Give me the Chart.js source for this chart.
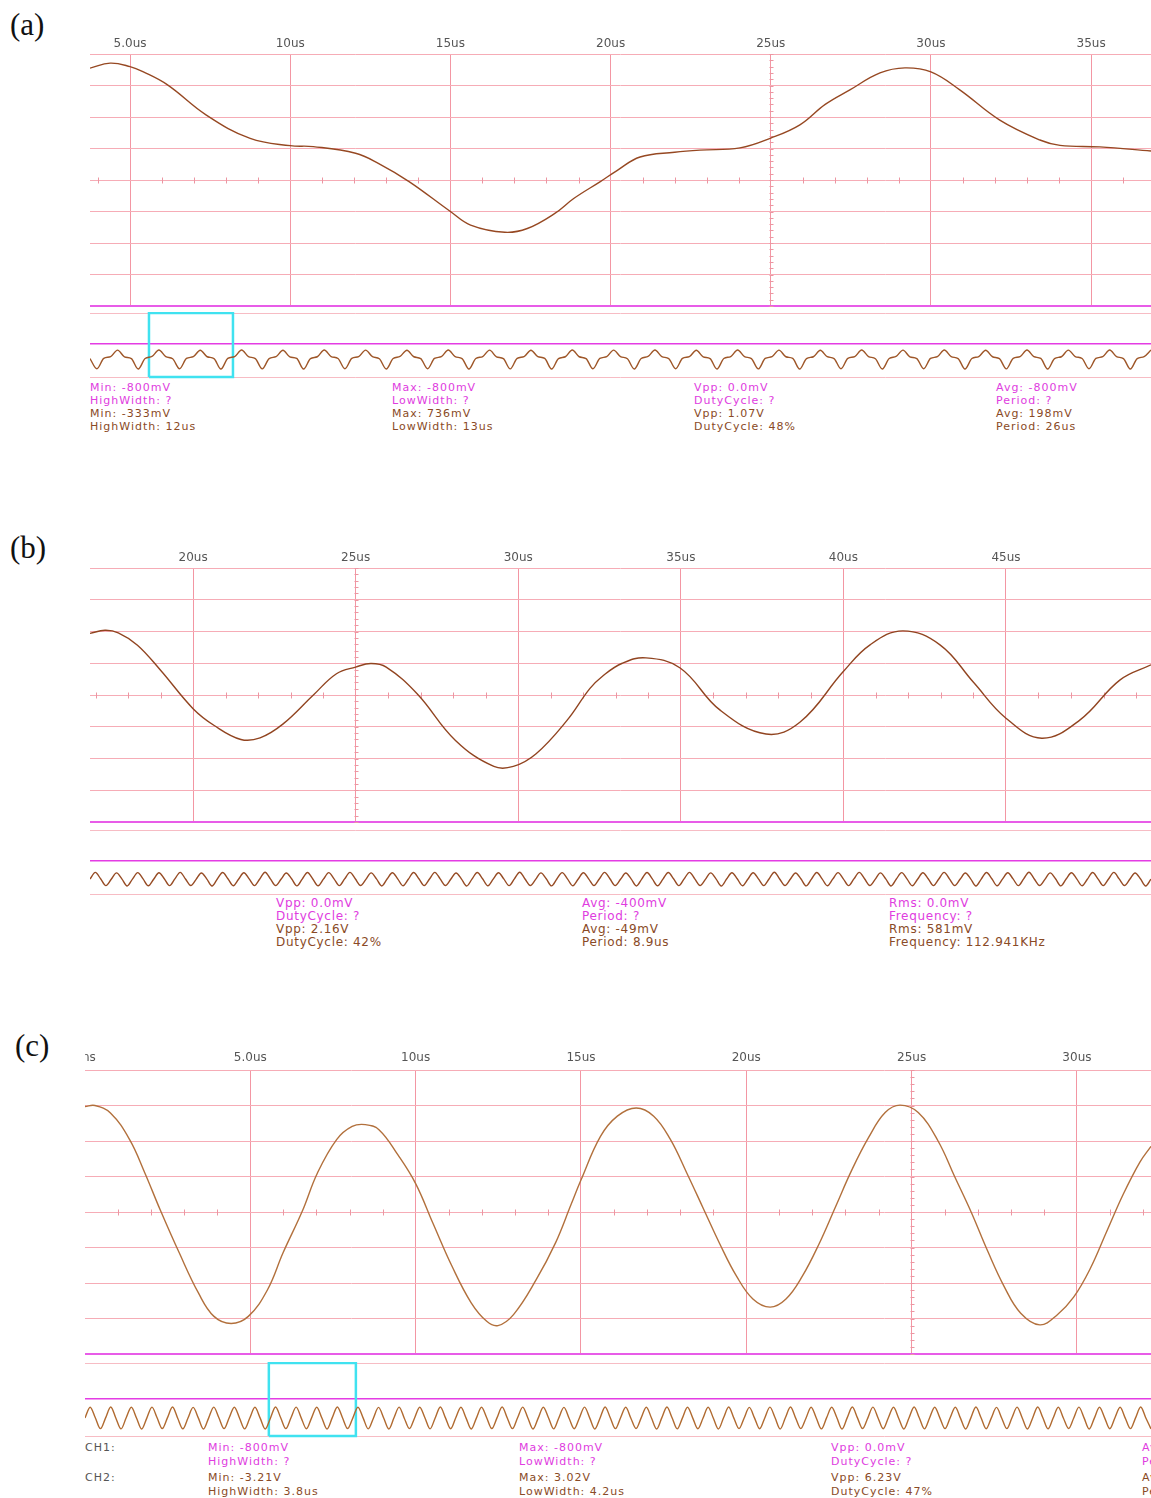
<!DOCTYPE html>
<html>
<head>
<meta charset="utf-8">
<script src="https://cdn.jsdelivr.net/npm/chart.js@4.4.1/dist/chart.umd.min.js"></script>
<style>
  html, body { margin: 0; padding: 0; background: #fff; overflow: hidden; }
  #page { position: relative; width: 1151px; height: 1498px; overflow: hidden; background: #fff; }
  canvas { position: absolute; }
  .lbl { position: absolute; font-family: "Liberation Serif", serif; font-size: 31px; line-height: 34px; color: #111; }
  .txt { position: absolute; font-family: "DejaVu Sans", sans-serif; font-size: 11px; line-height: 13px; letter-spacing: 1px; white-space: nowrap; }
  .txt.wide { font-size: 12px; letter-spacing: 0.7px; }
  .m { color: #e03ce0; }
  .b { color: #8a4a26; }
  .g { color: #555; }
</style>
</head>
<body>
<div id="page">
  <div class="lbl" style="left:10px;top:8px">(a)</div>
  <div class="lbl" style="left:10px;top:531px">(b)</div>
  <div class="lbl" style="left:15px;top:1029px">(c)</div>
  <canvas id="mainA"></canvas>
  <canvas id="stripA"></canvas>
  <canvas id="mainB"></canvas>
  <canvas id="stripB"></canvas>
  <canvas id="mainC"></canvas>
  <canvas id="stripC"></canvas>
</div>
<script>
// ---------- panel (a) ----------
const tA = [3.75, 4.38, 5.0, 5.4, 6.17, 7.37, 8.75, 10.0, 10.72, 12.04, 12.75, 13.71, 15.0, 15.63, 16.7, 17.4, 18.26, 18.86, 19.68, 20.2,
            20.92, 22.0, 22.79, 24.04, 25.0, 25.91, 26.7, 27.47, 28.41, 29.19, 30.0, 30.9, 32.15, 33.4, 34.03, 35.27, 36.87];
const vA = [3.55, 3.71, 3.6, 3.44, 3.02, 2.07, 1.32, 1.09, 1.06, 0.85, 0.53, -0.05, -1.0, -1.43, -1.66, -1.54, -1.06, -0.58, -0.05, 0.3,
            0.73, 0.88, 0.95, 1.02, 1.33, 1.75, 2.4, 2.86, 3.4, 3.56, 3.43, 2.86, 1.9, 1.27, 1.1, 1.05, 0.92];
const ticksA = [5, 10, 15, 20, 25, 30, 35];
const tickLabelsA = ['5.0us', '10us', '15us', '20us', '25us', '30us', '35us'];
const stripA = [
  0.10, -0.98, 0.12, 0.30, 0.99, 0.28,
  0.10, -1.00, 0.10, 0.32, 1.00, 0.30,
  0.08, -0.97, 0.11, 0.30, 0.98, 0.29,
  0.10, -1.00, 0.12, 0.31, 1.00, 0.30,
  0.09, -0.99, 0.10, 0.30, 0.97, 0.28,
  0.11, -1.00, 0.10, 0.29, 1.00, 0.31,
  0.10, -0.98, 0.12, 0.30, 0.99, 0.30,
  0.08, -1.00, 0.10, 0.32, 0.98, 0.29,
  0.10, -0.97, 0.11, 0.30, 1.00, 0.30,
  0.10, -1.00, 0.10, 0.31, 0.99, 0.28,
  0.09, -0.99, 0.12, 0.30, 0.97, 0.30,
  0.11, -1.00, 0.10, 0.29, 1.00, 0.29,
  0.10, -0.98, 0.11, 0.30, 0.99, 0.31,
  0.08, -1.00, 0.10, 0.32, 1.00, 0.30,
  0.10, -0.97, 0.12, 0.30, 0.98, 0.28,
  0.10, -1.00, 0.10, 0.31, 1.00, 0.30,
  0.09, -0.99, 0.11, 0.30, 0.99, 0.29,
  0.11, -1.00, 0.10, 0.29, 0.97, 0.30,
  0.10, -0.98, 0.12, 0.30, 1.00, 0.31,
  0.08, -1.00, 0.10, 0.32, 0.99, 0.28,
  0.10, -0.97, 0.11, 0.30, 1.00, 0.30,
  0.10, -1.00, 0.10, 0.31, 0.98, 0.29,
  0.09, -0.99, 0.12, 0.30, 1.00, 0.30,
  0.11, -1.00, 0.10, 0.29, 0.99, 0.31,
  0.10, -0.98, 0.11, 0.30, 1.00, 0.30,
  0.10, -1.00, 0.10, 0.30, 0.99
];
const boxA = [8.56, 20.75];
const statsA = [
  ['Min: -800mV', 'HighWidth: ?', 'Min: -333mV', 'HighWidth: 12us'],
  ['Max: -800mV', 'LowWidth: ?', 'Max: 736mV', 'LowWidth: 13us'],
  ['Vpp: 0.0mV', 'DutyCycle: ?', 'Vpp: 1.07V', 'DutyCycle: 48%'],
  ['Avg: -800mV', 'Period: ?', 'Avg: 198mV', 'Period: 26us']
];

// ---------- panel (b) ----------
const tB = [16.83, 17.29, 17.7, 18.29, 19.0, 20.0, 20.65, 21.47, 22.06, 22.77, 23.7, 24.41, 25.0, 25.47, 25.94, 26.89, 28.07, 29.25, 29.85,
            30.55, 31.5, 32.2, 32.6, 33.2, 33.93, 34.98, 36.2, 37.62, 38.67, 39.99, 40.82, 41.83, 42.97, 44.0, 45.0, 46.1, 47.27, 48.5, 49.46];
const vB = [1.94, 2.04, 1.96, 1.57, 0.78, -0.43, -0.96, -1.4, -1.35, -0.91, 0.0, 0.67, 0.88, 0.99, 0.88, 0.04, -1.43, -2.25, -2.25,
            -1.85, -0.8, 0.2, 0.6, 1.0, 1.17, 0.85, -0.47, -1.23, -0.85, 0.73, 1.58, 2.02, 1.58, 0.4, -0.73, -1.36, -0.79, 0.47, 0.95];
const ticksB = [20, 25, 30, 35, 40, 45];
const tickLabelsB = ['20us', '25us', '30us', '35us', '40us', '45us'];
const stripB = [
  0.02, 0.95, 0.05, -0.92, -0.03, 0.88, 0.04, -0.97,
  0.00, 0.92, 0.03, -0.95, -0.02, 0.90, 0.05, -0.93,
  0.03, 0.96, 0.02, -0.90, -0.04, 0.87, 0.04, -0.98,
  0.01, 0.93, 0.05, -0.94, -0.02, 0.91, 0.03, -0.92,
  0.02, 0.97, 0.04, -0.91, -0.03, 0.86, 0.05, -0.96,
  0.00, 0.94, 0.02, -0.95, -0.01, 0.92, 0.04, -0.93,
  0.03, 0.95, 0.05, -0.90, -0.04, 0.88, 0.03, -0.97,
  0.01, 0.91, 0.04, -0.94, -0.02, 0.93, 0.05, -0.92,
  0.02, 0.96, 0.03, -0.91, -0.03, 0.87, 0.04, -0.98,
  0.00, 0.93, 0.05, -0.95, -0.01, 0.90, 0.03, -0.93,
  0.03, 0.97, 0.02, -0.90, -0.04, 0.89, 0.05, -0.96,
  0.01, 0.92, 0.04, -0.94, -0.02, 0.91, 0.04, -0.92,
  0.02, 0.95, 0.05, -0.91, -0.03, 0.86, 0.03, -0.97,
  0.00, 0.94, 0.03, -0.95, -0.01, 0.93, 0.05, -0.93,
  0.03, 0.96, 0.04, -0.90, -0.04, 0.88, 0.04, -0.98,
  0.01, 0.91, 0.05, -0.94, -0.02, 0.90, 0.03, -0.92,
  0.02, 0.97, 0.02, -0.91, -0.03, 0.87, 0.05, -0.96,
  0.00, 0.93, 0.04, -0.95, -0.01, 0.92, 0.04, -0.93,
  0.03, 0.95, 0.05, -0.90, -0.04, 0.89, 0.03, -0.97,
  0.01, 0.92, 0.03, -0.94, -0.02, 0.91, 0.05, -0.92,
  0.02, 0.96, 0.04, -0.91, -0.03, 0.86, 0.04, -0.98,
  0.00, 0.94, 0.05, -0.95, -0.01, 0.90, 0.03, -0.93,
  0.03, 0.97, 0.02, -0.90, -0.04, 0.88, 0.05, -0.96,
  0.01, 0.91, 0.04, -0.94, -0.02, 0.93, 0.04, -0.92,
  0.02, 0.95, 0.03, -0.91, -0.03, 0.87, 0.05, -0.97,
  0.00
];
const statsB = [
  ['Vpp: 0.0mV', 'DutyCycle: ?', 'Vpp: 2.16V', 'DutyCycle: 42%'],
  ['Avg: -400mV', 'Period: ?', 'Avg: -49mV', 'Period: 8.9us'],
  ['Rms: 0.0mV', 'Frequency: ?', 'Rms: 581mV', 'Frequency: 112.941KHz']
];

// ---------- panel (c) ----------
const tC = [0, 0.3, 0.77, 1.35, 1.81, 2.27, 2.85, 3.43, 3.9, 4.42, 4.94, 5.52, 5.99, 6.57, 7.03, 7.61, 8.08, 8.48, 8.89, 9.47,
            10.0, 10.52, 11.1, 11.68, 12.15, 12.49, 12.96, 13.65, 14.23, 14.7, 15.0, 15.59, 16.1, 16.67, 17.2, 17.7, 18.2, 18.7, 19.2, 19.7,
            20.2, 20.72, 21.2, 21.7, 22.2, 22.7, 23.2, 23.7, 24.2, 24.65, 25.2, 25.8, 26.3, 26.8, 27.3, 27.8, 28.3, 28.88, 29.4, 29.9,
            30.4, 30.9, 31.4, 31.9, 32.24];
const vC = [2.97, 3.0, 2.79, 2.04, 1.1, 0.07, -1.15, -2.28, -2.94, -3.14, -2.94, -2.19, -1.15, 0.02, 1.1, 2.04, 2.41, 2.46, 2.32, 1.6,
            0.8, -0.31, -1.53, -2.56, -3.08, -3.2, -2.89, -1.9, -0.87, 0.21, 0.9, 2.13, 2.7, 2.93, 2.7, 2.05, 1.1, 0.1, -0.9, -1.8,
            -2.45, -2.68, -2.45, -1.8, -0.9, 0.15, 1.2, 2.1, 2.8, 3.01, 2.8, 2.0, 1.0, 0.0, -1.1, -2.1, -2.85, -3.18, -2.9, -2.4,
            -1.6, -0.55, 0.5, 1.4, 1.85];
const ticksC = [0, 5, 10, 15, 20, 25, 30];
const tickLabelsC = ['0ns', '5.0us', '10us', '15us', '20us', '25us', '30us'];
const stripC = [
  0.00, 0.98, 0.02, -0.97, 0.01, 1.00, -0.02, -0.99,
  0.02, 0.97, 0.00, -1.00, -0.01, 0.99, 0.02, -0.96,
  0.01, 1.00, -0.02, -0.98, 0.00, 0.96, 0.01, -1.00,
  -0.01, 0.99, 0.02, -0.97, 0.02, 0.98, 0.00, -0.99,
  0.00, 0.97, 0.01, -1.00, -0.02, 1.00, 0.02, -0.97,
  0.02, 0.99, -0.01, -0.98, 0.01, 0.97, 0.00, -1.00,
  0.01, 1.00, 0.02, -0.96, -0.01, 0.98, 0.01, -0.99,
  -0.02, 0.96, 0.00, -1.00, 0.02, 0.99, -0.02, -0.97,
  0.00, 0.98, 0.02, -0.99, 0.00, 1.00, 0.01, -0.98,
  0.02, 0.97, -0.01, -1.00, -0.01, 0.97, 0.02, -0.96,
  0.01, 1.00, 0.00, -0.97, 0.02, 0.99, 0.00, -1.00,
  -0.01, 0.98, 0.02, -0.99, 0.00, 0.96, -0.02, -0.98,
  0.00, 0.99, 0.01, -1.00, -0.02, 1.00, 0.02, -0.97,
  0.02, 0.97, -0.02, -0.96, 0.01, 0.98, 0.00, -1.00,
  0.01, 1.00, 0.02, -0.99, -0.01, 0.97, 0.01, -0.98,
  -0.02, 0.98, 0.00, -1.00, 0.02, 1.00, -0.01, -0.97,
  0.00, 0.96, 0.01, -0.98, 0.00, 0.99, 0.02, -1.00,
  0.02, 1.00, -0.01, -0.97, -0.02, 0.98, 0.00, -0.99,
  0.01, 0.97, 0.02, -1.00, 0.01, 1.00, 0.01, -0.96,
  -0.01, 0.99, 0.00, -0.98, 0.02, 0.97, -0.02, -1.00,
  0.00, 1.00, 0.02, -0.99, 0.00, 0.98, 0.01, -0.97,
  0.02, 0.98, -0.01, -1.00, -0.01, 1.00, 0.02, -0.98,
  0.01, 0.96, 0.00, -0.97, 0.02, 0.99, 0.00, -1.00,
  -0.02, 1.00, 0.02, -0.99, 0.00, 0.97, -0.02, -0.96,
  0.00, 0.99, 0.01, -1.00, -0.01, 0.98, 0.01, -0.98,
  0.02, 0.97, -0.01, -0.97, 0.01, 1.00, 0.00, -0.99
];
const boxC = [35.7, 52.6];
const statsC = [
  ['Min: -800mV', 'HighWidth: ?', 'Min: -3.21V', 'HighWidth: 3.8us'],
  ['Max: -800mV', 'LowWidth: ?', 'Max: 3.02V', 'LowWidth: 4.2us'],
  ['Vpp: 0.0mV', 'DutyCycle: ?', 'Vpp: 6.23V', 'DutyCycle: 47%'],
  ['Avg: -800mV', 'Period: ?', 'Avg: -92mV', 'Period: 8.0us']
];
const channelsC = ['CH1:', 'CH2:'];

// ---------- styles ----------
const GRID_V = 'rgb(243,150,163)';
const GRID_H = 'rgb(246,172,182)';
const MAGENTA = 'rgb(232,92,232)';
const STRIP_PINK = 'rgb(247,188,196)';
const STRIP_MAG = 'rgb(228,60,228)';
const CYAN = 'rgb(64,226,240)';
const CLEAR = 'rgba(0,0,0,0)';

// small tick marks on the centre lines of the scope grid
const scopeMarks = {
  id: 'scopeMarks',
  beforeDatasetsDraw(chart, args, opts) {
    if (opts.center === undefined) return;
    const {ctx, scales: {x, y}} = chart;
    ctx.save();
    ctx.strokeStyle = 'rgb(236,150,162)';
    ctx.lineWidth = 1;
    ctx.beginPath();
    const y0 = Math.round(y.getPixelForValue(0)) + 0.5;
    for (let t = Math.ceil(x.min); t <= x.max; t++) {
      if (t % 5 === 0) continue;
      const px = Math.round(x.getPixelForValue(t)) + 0.5;
      ctx.moveTo(px, y0 - 3);
      ctx.lineTo(px, y0 + 3);
    }
    const xc = Math.round(x.getPixelForValue(opts.center)) + 0.5;
    for (let i = -20; i <= 20; i++) {
      const py = Math.round(y.getPixelForValue(i / 5)) + 0.5;
      ctx.moveTo(xc - 2, py);
      ctx.lineTo(xc + 2, py);
    }
    ctx.stroke();
    ctx.restore();
  }
};

function place(id, x, y, w, h) {
  const el = document.getElementById(id);
  el.width = w; el.height = h;
  el.style.left = x + 'px'; el.style.top = y + 'px';
  el.style.width = w + 'px'; el.style.height = h + 'px';
  return el;
}

function scopeChart(el, t, v, ticks, tickLabels, xmin, xmax, color, labelPad) {
  return new Chart(el, {
    type: 'line',
    data: {
      datasets: [{
        data: t.map((x, i) => ({x: x, y: v[i]})),
        borderColor: color,
        borderWidth: 1.4,
        pointRadius: 0,
        tension: 0.4
      }]
    },
    options: {
      responsive: false,
      animation: false,
      devicePixelRatio: 1,
      events: [],
      layout: {padding: {left: 0, right: 0, top: 0, bottom: 2}},
      plugins: {legend: {display: false}, tooltip: {enabled: false}, scopeMarks: {center: 25}},
      scales: {
        x: {
          type: 'linear',
          position: 'top',
          min: xmin,
          max: xmax,
          afterBuildTicks: s => { s.ticks = ticks.map(value => ({value})); },
          afterFit: s => { s.height = 20; s.paddingLeft = 0; s.paddingRight = 0; },
          ticks: {
            callback: (val, i) => tickLabels[i],
            color: '#555',
            font: {family: 'DejaVu Sans', size: 12},
            padding: labelPad,
            maxRotation: 0,
            autoSkip: false
          },
          grid: {
            color: c => (c.tick && c.tick.value === xmin) ? CLEAR : GRID_V,
            drawTicks: false
          },
          border: {display: false}
        },
        y: {
          min: -4,
          max: 4,
          ticks: {display: false, stepSize: 1},
          afterFit: s => { s.width = 0; },
          grid: {
            color: c => (c.tick && c.tick.value === -4) ? MAGENTA : GRID_H,
            lineWidth: c => (c.tick && c.tick.value === -4) ? 2 : 1,
            drawTicks: false
          },
          border: {display: false}
        }
      }
    },
    plugins: [scopeMarks]
  });
}

function stripChart(el, values, yr, box, color) {
  const sets = [{
    data: values.map((v, i) => ({x: i, y: v})),
    borderColor: color,
    borderWidth: 1.4,
    pointRadius: 0,
    cubicInterpolationMode: 'monotone'
  }];
  if (box) {
    sets.push({
      data: [{x: box[0], y: yr.min}, {x: box[0], y: yr.max}, {x: box[1], y: yr.max}, {x: box[1], y: yr.min}, {x: box[0], y: yr.min}],
      borderColor: CYAN,
      borderWidth: 2.5,
      pointRadius: 0,
      tension: 0,
      clip: 4
    });
  }
  return new Chart(el, {
    type: 'line',
    data: {datasets: sets},
    options: {
      responsive: false,
      animation: false,
      devicePixelRatio: 1,
      events: [],
      layout: {padding: {left: 0, right: 0, top: 1, bottom: 2}},
      plugins: {legend: {display: false}, tooltip: {enabled: false}},
      scales: {
        x: {type: 'linear', display: false, min: 0, max: values.length - 1},
        y: {
          min: yr.min,
          max: yr.max,
          afterBuildTicks: s => { s.ticks = [yr.min, yr.mag, yr.max].map(value => ({value})); },
          afterFit: s => { s.width = 0; },
          ticks: {display: false},
          grid: {
            color: c => (c.tick && c.tick.value === yr.mag) ? STRIP_MAG : STRIP_PINK,
            lineWidth: c => (c.tick && c.tick.value === yr.mag) ? 1.5 : 1,
            drawTicks: false
          },
          border: {display: false}
        }
      }
    }
  });
}

const page = document.getElementById('page');
function addStats(cols, xs, ys, extraClass) {
  cols.forEach((lines, ci) => lines.forEach((s, ri) => {
    const d = document.createElement('div');
    d.className = 'txt ' + (ri < 2 ? 'm' : 'b') + (extraClass ? ' ' + extraClass : '');
    d.textContent = s;
    d.style.left = xs[ci] + 'px';
    d.style.top = (ys[ri] - 6.5) + 'px';
    page.appendChild(d);
  }));
}

// (a)
scopeChart(place('mainA', 90, 34, 1061, 274), tA, vA, ticksA, tickLabelsA, 3.75, 36.87, 'rgb(150,72,34)', 3);
stripChart(place('stripA', 90, 312, 1061, 67), stripA, {min: -1.84, mag: 1.63, max: 4.89}, boxA, 'rgb(158,86,40)');
addStats(statsA, [90, 392, 694, 996], [387, 400, 413, 426]);

// (b)
scopeChart(place('mainB', 90, 548, 1061, 276), tB, vB, ticksB, tickLabelsB, 16.83, 49.46, 'rgb(145,68,32)', 3);
stripChart(place('stripB', 90, 829, 1061, 67), stripB, {min: -2.11, mag: 2.67, max: 6.96}, null, 'rgb(150,75,36)');
addStats(statsB, [276, 582, 889], [903, 916, 929, 942], 'wide');

// (c)
scopeChart(place('mainC', 85, 1050, 1066, 306), tC, vC, ticksC, tickLabelsC, 0, 32.24, 'rgb(178,112,60)', 5);
stripChart(place('stripC', 85, 1362, 1066, 76), stripC, {min: -1.64, mag: 1.73, max: 5.0}, boxC, 'rgb(176,106,48)');
addStats(statsC, [208, 519, 831, 1142], [1447, 1461, 1477, 1491]);
channelsC.forEach((s, i) => {
  const d = document.createElement('div');
  d.className = 'txt g';
  d.textContent = s;
  d.style.left = '85px';
  d.style.top = ([1447, 1477][i] - 6.5) + 'px';
  page.appendChild(d);
});
</script>
</body>
</html>
